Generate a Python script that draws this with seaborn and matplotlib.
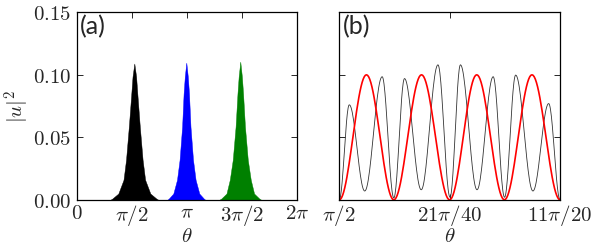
import numpy as np
import pandas as pd
import matplotlib
matplotlib.use("Agg")
import matplotlib.pyplot as plt
import seaborn as sns

# --- panel (a): three localized peaks (envelope) ---
peak_names = ["k", "b", "g"]
peak_colors = ["#000000", "#0000ff", "#008000"]
peak_centers = [1.639, 3.126, 4.670]
peak_heights = [0.109, 0.1097, 0.1105]
# heights of the envelope below the top, common to the three peaks
env_levels = [0.0986, 0.085, 0.0585, 0.032, 0.016, 0.005, 0.001, 0.0]
# half widths (rad) at the top and at each level
halfwidth_k = [0.0, 0.051, 0.086, 0.157, 0.237, 0.309, 0.458, 0.629, 0.686]
halfwidth_b = [0.0, 0.043, 0.077, 0.120, 0.192, 0.266, 0.372, 0.500, 0.543]
halfwidth_g = [0.0, 0.046, 0.080, 0.134, 0.215, 0.300, 0.395, 0.543, 0.600]

# --- panel (b): zoom between pi/2 and 11pi/20, extrema of each curve ---
black_theta = [1.5708, 1.5779, 1.5889, 1.6013, 1.6096, 1.6172, 1.6291, 1.6410,
               1.6496, 1.6570, 1.6688, 1.6803, 1.6884, 1.6963, 1.7086, 1.7198, 1.7279]
black_vals = [0.0, 0.076, 0.007, 0.0985, 0.0015, 0.097, 0.008, 0.108,
              0.002, 0.108, 0.008, 0.0985, 0.002, 0.0998, 0.007, 0.077, 0.0]
red_theta = [1.5708, 1.5901, 1.6096, 1.6293, 1.6493, 1.6686, 1.6883, 1.7079, 1.7279]
red_vals = [0.0, 0.100, 0.0, 0.100, 0.0, 0.100, 0.0, 0.100, 0.0]

xticks_a = [0, np.pi / 2, np.pi, 3 * np.pi / 2, 2 * np.pi]
xlabels_a = [r"$0$", r"$\pi/2$", r"$\pi$", r"$3\pi/2$", r"$2\pi$"]
xticks_b = [np.pi / 2, 21 * np.pi / 40, 11 * np.pi / 20]
xlabels_b = [r"$\pi/2$", r"$21\pi/40$", r"$11\pi/20$"]
yticks = [0.0, 0.05, 0.10, 0.15]
ylabels = [r"$0.00$", r"$0.05$", r"$0.10$", r"$0.15$"]


def smooth_between(xs, ys, n=25):
    # half-cosine segments joining consecutive extrema
    px, py = [], []
    for i in range(len(xs) - 1):
        t = np.linspace(0, 1, n, endpoint=False)
        s = (1 - np.cos(np.pi * t)) / 2
        px.extend(xs[i] + (xs[i + 1] - xs[i]) * t)
        py.extend(ys[i] + (ys[i + 1] - ys[i]) * s)
    px.append(xs[-1])
    py.append(ys[-1])
    return np.array(px), np.array(py)


sns.set_style("ticks")
plt.rcParams["mathtext.fontset"] = "cm"
plt.rcParams["font.family"] = ["DejaVu Sans"]

fig = plt.figure(figsize=(5.98, 2.5), dpi=100)
ax1 = fig.add_axes([0.1288, 0.2008, 0.3673, 0.75])
ax2 = fig.add_axes([0.5674, 0.2008, 0.3691, 0.75])

widths = {"k": halfwidth_k, "b": halfwidth_b, "g": halfwidth_g}
for name, col, c, h in zip(peak_names, peak_colors, peak_centers, peak_heights):
    w = np.array(widths[name])
    lev = np.array([h] + env_levels)
    xs = np.concatenate([c - w[::-1], c + w[1:]])
    ys = np.concatenate([lev[::-1], lev[1:]])
    ax1.fill_between(xs, 0, ys, color=col, lw=0.3, edgecolor=col)

bx, by = smooth_between(black_theta, black_vals)
rx, ry = smooth_between(red_theta, red_vals)
df_b = pd.DataFrame({"theta": bx, "u2": by})
df_r = pd.DataFrame({"theta": rx, "u2": ry})
sns.lineplot(data=df_b, x="theta", y="u2", ax=ax2, color="#333333", lw=0.6,
             sort=False, estimator=None)
sns.lineplot(data=df_r, x="theta", y="u2", ax=ax2, color="#ff0000", lw=1.2,
             sort=False, estimator=None)

for ax in (ax1, ax2):
    ax.set_ylim(0, 0.15)
    ax.tick_params(direction="in", top=True, right=True, length=4, width=0.7,
                   labelsize=15)
    ax.tick_params(axis="x", pad=2)
    ax.tick_params(axis="y", pad=4)
    for s in ax.spines.values():
        s.set_linewidth(0.9)
        s.set_color("black")
    ax.set_xlabel(r"$\theta$", fontsize=15, labelpad=-1)
    ax.set_ylabel("")

ax1.set_xlim(0, 2 * np.pi)
ax1.set_xticks(xticks_a, xlabels_a)
ax1.set_yticks(yticks, ylabels)
ax1.set_ylabel(r"$|u|^2$", fontsize=15, labelpad=1)

ax2.set_xlim(np.pi / 2, 11 * np.pi / 20)
ax2.set_xticks(xticks_b, xlabels_b)
ax2.set_yticks(yticks, [""] * len(yticks))

ax1.text(0.015, 0.985, "(a)", transform=ax1.transAxes, va="top", ha="left",
         fontsize=18, family=["Lato", "DejaVu Sans"])
ax2.text(0.015, 0.985, "(b)", transform=ax2.transAxes, va="top", ha="left",
         fontsize=18, family=["Lato", "DejaVu Sans"])

fig.savefig("out.png", dpi=100)
